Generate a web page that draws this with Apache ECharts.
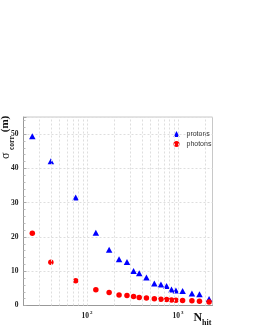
<!DOCTYPE html>
<html>
<head>
<meta charset="utf-8">
<script src="https://cdn.jsdelivr.net/npm/echarts@6/dist/echarts.min.js"></script>
<style>html,body{margin:0;padding:0;background:#fff}#c{width:255px;height:330px}</style>
</head>
<body>
<div id="c"></div>
<script>
// Data
const nhit = [25, 40, 75, 125, 175, 225, 275, 325, 375, 450, 550, 650, 750, 850, 950, 1125, 1425, 1725, 2200];
const protons = [49.4, 42.1, 31.5, 21.2, 16.3, 13.5, 12.7, 10.1, 9.4, 8.2, 6.4, 6.1, 5.7, 4.7, 4.4, 4.2, 3.5, 3.3, 1.9];
const photons = [21.1, 12.6, 7.2, 4.6, 3.8, 3.1, 2.9, 2.6, 2.3, 2.2, 2.0, 1.8, 1.75, 1.6, 1.55, 1.45, 1.35, 1.25, 1.05];
const xGridValues = [30, 40, 50, 60, 70, 80, 90, 100, 200, 300, 400, 500, 600, 700, 800, 900, 1000, 2000];
const seriesNames = ['protons', 'photons'];

const chart = echarts.init(document.getElementById('c'), null, {renderer: 'canvas'});
const serif = 'Liberation Serif';
const sans = 'Liberation Sans';

const option = {
  animation: false,
  backgroundColor: '#fff',
  grid: {left: 23.5, right: 42.5, top: 117, bottom: 24.5, show: true, borderColor: '#c8c8c8', borderWidth: 1},
  legend: {
    orient: 'vertical', left: 173.5, top: 130.5, padding: 0, itemGap: 3,
    itemWidth: 6, itemHeight: 6,
    data: [{name: seriesNames[0], icon: 'triangle'}, {name: seriesNames[1], icon: 'circle'}],
    itemStyle: {borderWidth: 0},
    textStyle: {fontFamily: sans, fontSize: 7, color: '#333', padding: [0, 0, 0, 2]}
  },
  xAxis: {
    type: 'log', logBase: 10, min: 20, max: 2400,
    axisLine: {show: true, lineStyle: {color: '#999', width: 1}},
    axisTick: {show: false},
    splitLine: {show: false},
    axisLabel: {
      showMinLabel: false, showMaxLabel: false, margin: 5,
      formatter: function (v) {
        const e = Math.log10(v);
        if (Math.abs(e - Math.round(e)) < 1e-6 && Math.round(e) >= 2) {
          return '{b|10}{s|' + Math.round(e) + '}';
        }
        return '';
      },
      rich: {
        b: {fontFamily: serif, fontWeight: 'bold', fontSize: 7.5, color: '#222', verticalAlign: 'bottom', lineHeight: 10},
        s: {fontFamily: serif, fontWeight: 'bold', fontSize: 5, color: '#222', verticalAlign: 'top', lineHeight: 10, padding: [0, 0, 0, 1]}
      }
    }
  },
  yAxis: {
    type: 'value', min: 0, max: 55, interval: 10,
    axisLine: {show: true, lineStyle: {color: '#999', width: 1}},
    axisTick: {show: true, inside: true, length: 3, lineStyle: {color: '#aaa'}},
    minorTick: {show: true, splitNumber: 5, length: 2, lineStyle: {color: '#bbb'}},
    splitLine: {show: true, lineStyle: {color: '#dedede', type: [2, 2], width: 1}},
    axisLabel: {showMaxLabel: false, margin: 5, fontFamily: serif, fontWeight: 'bold', fontSize: 7.5, color: '#222'}
  },
  series: [
    {
      name: seriesNames[0], type: 'scatter', symbol: 'triangle', symbolSize: [6.5, 6],
      itemStyle: {color: '#0000ff', opacity: 1},
      data: nhit.map((x, i) => [x, protons[i]]), z: 3,
      markLine: {
        silent: true, symbol: 'none', animation: false,
        label: {show: false},
        lineStyle: {color: '#dedede', type: [2, 2], width: 1},
        emphasis: {disabled: true},
        data: xGridValues.map(v => ({xAxis: v}))
      }
    },
    {
      name: seriesNames[1], type: 'scatter', symbol: 'circle', symbolSize: 5.5,
      itemStyle: {color: '#ff0000', opacity: 1},
      data: nhit.map((x, i) => [x, photons[i]]), z: 4
    }
  ],
  graphic: [
    {type: 'text', x: 5.5, y: 159, rotation: Math.PI / 2, z: 10,
     style: {text: 'σ', font: '12px "' + serif + '"', fill: '#111', textAlign: 'left', textVerticalAlign: 'middle'}},
    {type: 'text', x: 12.5, y: 150, rotation: Math.PI / 2, z: 10,
     style: {text: 'corr', font: 'bold 7.5px "' + serif + '"', fill: '#111', textAlign: 'left', textVerticalAlign: 'middle'}},
    {type: 'text', x: 5.5, y: 135, rotation: Math.PI / 2, z: 10,
     style: {text: ' (m)', font: 'bold 11px "' + serif + '"', fill: '#111', textAlign: 'left', textVerticalAlign: 'middle'}},
    {type: 'text', x: 193.5, y: 318, z: 10,
     style: {text: 'N', font: 'bold 12px "' + serif + '"', fill: '#111', textAlign: 'left', textVerticalAlign: 'middle'}},
    {type: 'text', x: 202, y: 322.5, z: 10,
     style: {text: 'hit', font: 'bold 8px "' + serif + '"', fill: '#111', textAlign: 'left', textVerticalAlign: 'middle'}}
  ]
};
chart.setOption(option);
</script>
</body>
</html>
